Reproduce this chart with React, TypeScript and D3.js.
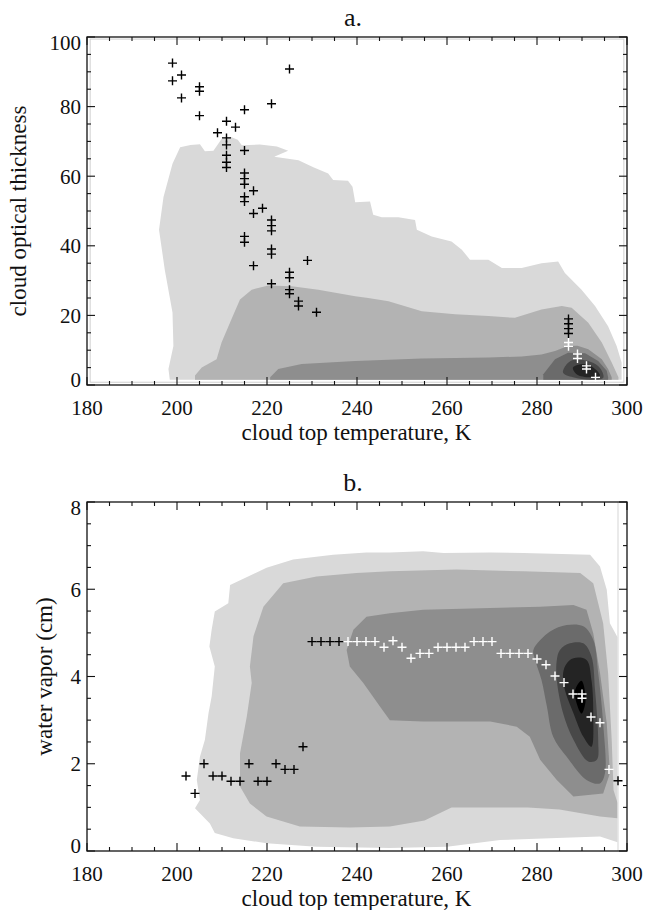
import React from "react";
import * as d3 from "d3";

// ---------- DATA ----------
const xTickValues = [180, 200, 220, 240, 260, 280, 300];
const aTickValues = [0, 20, 40, 60, 80, 100];
const bTickValues = [0, 2, 4, 6, 8];

const levelColors = ["#d9d9d9", "#b3b3b3", "#8e8e8e", "#6b6b6b", "#484848", "#242424", "#000000"];

// Panel a contours: [temperature K, optical thickness]
const aLevel1: [number, number][] = [
  [198.4, 1.5], [198.1, 4.6], [199.2, 11.2], [199, 20.8], [197.3, 33], [196, 44.6], [197, 54], [199, 63.6],
  [200.7, 68.3], [203, 69], [205.1, 69.2], [206.2, 67.2], [208.1, 67.3], [209.9, 70.7], [212, 71.3], [213.5, 70.5],
  [214.4, 68.9], [218.4, 69.1], [222.2, 68.5], [224.7, 67.3], [221.6, 65.6], [227, 64.6], [230.3, 62.6], [233.6, 60.8],
  [234.7, 58.9], [238, 58.7], [239, 57], [239.6, 52.5], [242.9, 52.7], [243.6, 48.9], [245.5, 48.2], [249.2, 48.2],
  [252.9, 47.4], [253.3, 44.6], [256.6, 42.7], [261, 41.2], [263.3, 38.9], [265.1, 36], [269.2, 36], [272.2, 33.6],
  [276.6, 33.6], [281, 35], [284.7, 35.5], [286.2, 32.2], [289.9, 27.4], [292.9, 22.7], [295.8, 16.9], [297.7, 11.2],
  [298.8, 6.5], [298.8, 1.5],
];
const aLevel2: [number, number][] = [
  [204, 1.5], [204, 2.7], [205.5, 5], [208.8, 7.4], [209.9, 12.2], [212.1, 18.9], [214, 24.6], [216.6, 27.4],
  [220.3, 28.6], [225.5, 28.4], [231.4, 27.4], [239.6, 25.5], [242.5, 25], [247, 24.1], [254.4, 21.2], [261.8, 20.3],
  [269.2, 19.8], [275.1, 19.3], [281, 21.7], [285.5, 22.7], [287.7, 22.2], [291.4, 17.9], [294.4, 12.2], [296.6, 6.5],
  [298.1, 2.2], [298.1, 1.5],
];
const aLevel3: [number, number][] = [
  [220.7, 1.5], [220.7, 2.2], [222.5, 4.6], [227.7, 6], [239.6, 6.9], [254.4, 7.6], [269.2, 7.9], [276.6, 8.2],
  [281, 8.8], [284, 9.8], [286.9, 11.2], [289, 11.3], [291.4, 10.3], [294.4, 7.4], [295.8, 4.6], [296.6, 2.2], [296.6, 1.5],
];
const aLevel4: [number, number][] = [
  [281.4, 1.5], [281.4, 3.1], [284, 7.4], [286.9, 9.3], [290.7, 9.1], [293.6, 6.9], [295.5, 4.1], [295.8, 2.2], [295.8, 1.5],
];
const aLevel5: [number, number][] = [
  [285.8, 3.5], [286.5, 5.8], [288, 7.2], [291.4, 6.9], [293.5, 5.5], [294.6, 3.5], [294.7, 2], [292, 1.5], [288, 2.2],
];
const aLevel6: [number, number][] = [
  [288, 5], [290.7, 6], [292.9, 4.6], [294, 2.7], [291.8, 2.2], [288.8, 3.1],
];

const aBlackT = [199, 199, 201, 201, 205, 205, 205, 209, 211, 213, 215, 221, 225,
  211, 211, 211, 211, 211, 215, 215, 215, 215, 215, 215, 215, 215,
  217, 217, 217, 219, 221, 221, 221, 221, 221, 221, 229, 225, 225, 225, 225, 227, 227, 231,
  287, 287, 287, 287];
const aBlackV = [92.5, 87.4, 89.1, 82.5, 85.7, 84.4, 77.4, 72.5, 75.8, 74.1, 79.1, 80.8, 90.8,
  71, 69, 66, 64, 62.5, 67.4, 60.9, 59.3, 57.7, 54.1, 52.7, 42.7, 41,
  55.8, 49.3, 34.3, 50.8, 47.4, 45.8, 44.3, 39.1, 37.6, 29.1, 35.8, 32.4, 30.8, 27.4, 26.2, 24.1, 22.7, 20.9,
  19, 17.6, 16.2, 14.8];
const aWhiteT = [287, 287, 289, 289, 291, 291, 293];
const aWhiteV = [12.2, 11.1, 8.9, 7.6, 5.5, 4.6, 2.2];

// Panel b contours: [temperature K, water vapor cm]
const bLevel1: [number, number][] = [
  [215.8, 6.29], [219.9, 6.49], [225.8, 6.68], [234.7, 6.79], [242.1, 6.84], [247.3, 6.84], [254.7, 6.87], [259.2, 6.83],
  [269.6, 6.84], [277, 6.83], [291.8, 6.79], [294, 6.52], [295.5, 5.99], [296.2, 5.22], [297.9, 4.9], [297.9, 0.2],
  [294, 0.33], [284.4, 0.3], [271.8, 0.25], [260, 0.1], [247.3, 0.07], [231, 0.1], [219.9, 0.18], [212.5, 0.29],
  [208.4, 0.41], [207.3, 0.63], [204, 0.98], [205.1, 1.17], [204.4, 1.63], [205.1, 2.16], [206.2, 2.55], [207, 3.16],
  [207.7, 3.54], [208.4, 4.23], [207.2, 4.69], [207.7, 5.07], [208.4, 5.49], [211.4, 5.68], [211.8, 6.1],
];
const bLevel2: [number, number][] = [
  [223.6, 6.14], [231, 6.29], [239.9, 6.37], [247.3, 6.41], [262.1, 6.45], [277, 6.41], [289.6, 6.37], [292.5, 6.14],
  [294.7, 5.22], [295.8, 4.08], [296.6, 2.55], [297, 1.4], [297.9, 1.1], [297.9, 0.75], [294, 0.79], [285, 0.95],
  [278, 1.0], [261, 1.0], [255, 0.7], [247.3, 0.56], [238.4, 0.54], [227.3, 0.56], [219.9, 0.79], [216.2, 1.09],
  [214, 1.48], [214, 2.24], [215.5, 3.08], [216.6, 3.85], [216.2, 4.23], [217, 4.92], [219.2, 5.6],
];
const bLevel3: [number, number][] = [
  [247.3, 5.45], [254.7, 5.53], [269.6, 5.57], [280.7, 5.6], [288.1, 5.64], [291, 5.53], [292.5, 4.99], [294, 4.08],
  [295.5, 2.93], [296.2, 1.78], [294.7, 1.32], [288.1, 1.25], [284.4, 1.63], [280.7, 2.09], [278.4, 2.62], [275.5, 2.85],
  [269.6, 2.97], [254.7, 2.97], [247.3, 3.0], [245.1, 3.31], [241.4, 3.85], [238.4, 4.23], [237.7, 4.61], [239.2, 5.07],
  [242.1, 5.37],
];
const bLevel4: [number, number][] = [
  [279.2, 4.61], [282.9, 5.03], [286.6, 5.18], [290.3, 5.15], [292.5, 4.84], [293.6, 4.08], [294.7, 2.93], [295.1, 1.78],
  [294, 1.55], [291, 1.63], [286.6, 2.16], [283.6, 2.62], [282.2, 3.31], [281, 3.92], [279.6, 4.38],
];
const bLevel5: [number, number][] = [
  [285.1, 4.61], [287.3, 4.76], [290.3, 4.76], [292.1, 4.46], [292.9, 3.69], [293.6, 2.55], [293.3, 2.09], [291.4, 2.05],
  [288.1, 2.55], [285.8, 3.16], [284.4, 3.92], [284.4, 4.38],
];
const bLevel6: [number, number][] = [
  [286.6, 4.3], [288.1, 4.42], [291, 4.38], [292.1, 3.92], [292.5, 3.16], [292.1, 2.39], [290.3, 2.62], [288.1, 3.16],
  [286.2, 3.69], [285.8, 4.08],
];
const bLevel7: [number, number][] = [
  [288.4, 3.65], [289.9, 3.9], [290.8, 3.45], [289.9, 3.15],
];

const bBlackT = [202, 204, 206, 208, 210, 212, 214, 216, 218, 220, 222, 224, 226, 228, 230, 232, 234, 236, 298];
const bBlackW = [1.72, 1.32, 2.0, 1.72, 1.72, 1.6, 1.6, 2.0, 1.6, 1.6, 2.0, 1.87, 1.87, 2.39, 4.8, 4.8, 4.8, 4.8, 1.61];
const bWhiteT = [238, 240, 242, 244, 246, 248, 250, 252, 254, 256, 258, 260, 262, 264, 266, 268, 270,
  272, 274, 276, 278, 280, 282, 284, 286, 288, 290, 290, 292, 294, 296];
const bWhiteW = [4.8, 4.8, 4.8, 4.8, 4.67, 4.82, 4.67, 4.42, 4.53, 4.53, 4.67, 4.67, 4.67, 4.67, 4.8, 4.8, 4.8,
  4.53, 4.53, 4.53, 4.53, 4.4, 4.27, 4.01, 3.86, 3.6, 3.6, 3.5, 3.07, 2.94, 1.87];

// ---------- CHART ----------
const FONT = "Liberation Serif, DejaVu Serif, Times New Roman, serif";
const xScale = d3.scaleLinear().domain([180, 300]).range([87, 627]);
const yScaleA = d3.scaleLinear().domain([0, 100]).range([385, 37]);
const yScaleB = d3.scaleLinear().domain([0, 8]).range([851, 502]);

type PanelProps = {
  y: d3.ScaleLinear<number, number>;
  yTicks: number[];
  yMinorStep: number;
  levels: [number, number][][];
  smoothFrom: number;
  blackT: number[]; blackV: number[];
  whiteT: number[]; whiteV: number[];
  title: string;
  ylabel: string;
  ylabelX: number;
  innerBox: "full" | "right";
};

function Plus({ x, y, color }: { x: number; y: number; color: string }) {
  const s = 4.5;
  return (
    <path d={`M${x - s},${y}H${x + s}M${x},${y - s}V${y + s}`} stroke={color} strokeWidth={1.4} fill="none" />
  );
}

const txt = (size: number) => ({ fontFamily: FONT, fontSize: size, fill: "#111" });

function Panel(p: PanelProps) {
  const x = xScale;
  const y = p.y;
  const [x0, x1] = x.range();
  const [yb, yt] = y.range();
  const yDom = y.domain();
  const lin = d3.line<[number, number]>().x(d => x(d[0])).y(d => y(d[1])).curve(d3.curveLinearClosed);
  const smooth = d3.line<[number, number]>().x(d => x(d[0])).y(d => y(d[1])).curve(d3.curveCatmullRomClosed.alpha(0.5));
  const xMinor = d3.range(180, 300.01, 5).filter(v => !xTickValues.includes(v));
  const yMinor = d3.range(yDom[0], yDom[1] + 1e-6, p.yMinorStep).filter(v => !p.yTicks.some(t => Math.abs(t - v) < 1e-6));
  const maj = 8, mnr = 4;
  const cx = (x0 + x1) / 2;
  return (
    <g>
      {p.levels.map((lv, i) => (
        <path key={i} d={(i >= p.smoothFrom ? smooth : lin)(lv) || ""} fill={levelColors[i]} stroke="none" />
      ))}
      {p.innerBox === "full" ? (
        <rect x={x(180.7)} y={y(yDom[1] * 0.994)} width={x(299.3) - x(180.7)} height={y(yDom[1] * 0.008) - y(yDom[1] * 0.994)}
          fill="none" stroke="#cfcfcf" strokeWidth={1} />
      ) : (
        <line x1={x(298)} x2={x(298)} y1={yt} y2={yb} stroke="#dcdcdc" strokeWidth={1.2} />
      )}
      {p.blackT.map((t, i) => <Plus key={"b" + i} x={x(t)} y={y(p.blackV[i])} color="#000" />)}
      {p.whiteT.map((t, i) => <Plus key={"w" + i} x={x(t)} y={y(p.whiteV[i])} color="#fff" />)}
      <rect x={x0} y={yt} width={x1 - x0} height={yb - yt} fill="none" stroke="#111" strokeWidth={1.3} />
      {xTickValues.map(v => (
        <g key={"xt" + v}>
          <line x1={x(v)} x2={x(v)} y1={yb} y2={yb - maj} stroke="#111" strokeWidth={1.1} />
          <line x1={x(v)} x2={x(v)} y1={yt} y2={yt + maj} stroke="#111" strokeWidth={1.1} />
          <text x={x(v)} y={yb + 30} textAnchor="middle" style={txt(21)}>{v}</text>
        </g>
      ))}
      {xMinor.map(v => (
        <g key={"xm" + v}>
          <line x1={x(v)} x2={x(v)} y1={yb} y2={yb - mnr} stroke="#111" strokeWidth={1.1} />
          <line x1={x(v)} x2={x(v)} y1={yt} y2={yt + mnr} stroke="#111" strokeWidth={1.1} />
        </g>
      ))}
      {p.yTicks.map(v => {
        const off = v === yDom[1] ? 6 : v === yDom[0] ? -5 : 0;
        return (
          <g key={"yt" + v}>
            <line x1={x0} x2={x0 + maj} y1={y(v)} y2={y(v)} stroke="#111" strokeWidth={1.1} />
            <line x1={x1} x2={x1 - maj} y1={y(v)} y2={y(v)} stroke="#111" strokeWidth={1.1} />
            <text x={x0 - 6} y={y(v) + off} dy="0.35em" textAnchor="end" style={txt(21)}>{v}</text>
          </g>
        );
      })}
      {yMinor.map(v => (
        <g key={"ym" + v}>
          <line x1={x0} x2={x0 + mnr} y1={y(v)} y2={y(v)} stroke="#111" strokeWidth={1.1} />
          <line x1={x1} x2={x1 - mnr} y1={y(v)} y2={y(v)} stroke="#111" strokeWidth={1.1} />
        </g>
      ))}
      <text x={cx - 0.5} y={yb + 55} textAnchor="middle" style={txt(23)}>cloud top temperature, K</text>
      <text x={353} y={yt - 11} textAnchor="middle" style={txt(26)}>{p.title}</text>
      <text transform={`translate(${p.ylabelX},${(yb + yt) / 2}) rotate(-90)`} textAnchor="middle" style={txt(23)}>{p.ylabel}</text>
    </g>
  );
}

export default function App() {
  return (
    <svg width={645} height={910} viewBox="0 0 645 910"
      style={{ position: "absolute", left: 0, top: 0, background: "#fff" }}>
      <rect width={645} height={910} fill="#fff" />
      <Panel y={yScaleA} yTicks={aTickValues} yMinorStep={5}
        levels={[aLevel1, aLevel2, aLevel3, aLevel4, aLevel5, aLevel6]} smoothFrom={4}
        blackT={aBlackT} blackV={aBlackV} whiteT={aWhiteT} whiteV={aWhiteV}
        title="a." ylabel="cloud optical thickness" ylabelX={26} innerBox="full" />
      <Panel y={yScaleB} yTicks={bTickValues} yMinorStep={0.5}
        levels={[bLevel1, bLevel2, bLevel3, bLevel4, bLevel5, bLevel6, bLevel7]} smoothFrom={3}
        blackT={bBlackT} blackV={bBlackW} whiteT={bWhiteT} whiteV={bWhiteW}
        title="b." ylabel="water vapor (cm)" ylabelX={52} innerBox="right" />
    </svg>
  );
}
